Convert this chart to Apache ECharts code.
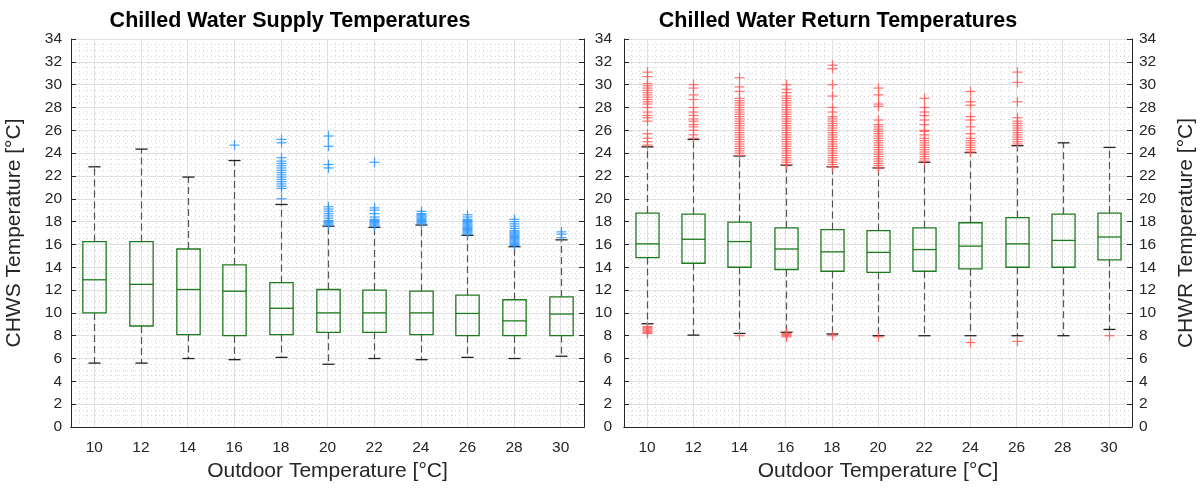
<!DOCTYPE html>
<html>
<head>
<meta charset="utf-8">
<script src="https://cdn.jsdelivr.net/npm/echarts@6/dist/echarts.min.js"></script>
<style>
html,body{margin:0;padding:0;background:#fff;}
#chart{width:1204px;height:493px;}
</style>
</head>
<body>
<div id="chart"></div>
<script>
// ---------- data ----------
const categories = ['10','12','14','16','18','20','22','24','26','28','30'];
const yTickMin = 0, yTickMax = 34, yTickStep = 2;

// CHWS (supply)
const chwsLow    = [5.6, 5.6, 6.0, 5.9, 6.1, 5.5, 6.0, 5.9, 6.1, 6.0, 6.2];
const chwsQ1     = [10.0, 8.85, 8.1, 8.0, 8.1, 8.3, 8.3, 8.1, 8.0, 8.0, 8.0];
const chwsMedian = [12.9, 12.5, 12.05, 11.9, 10.4, 10.0, 10.0, 10.0, 9.95, 9.3, 9.9];
const chwsQ3     = [16.25, 16.25, 15.6, 14.2, 12.65, 12.05, 12.0, 11.9, 11.55, 11.15, 11.4];
const chwsHigh   = [22.8, 24.35, 21.9, 23.35, 19.5, 17.6, 17.5, 17.7, 16.8, 15.8, 16.4];
const chwsOutliers = [
  [],
  [],
  [],
  [24.7],
  [20.0, 20.9, 21.1, 21.3, 21.5, 21.7, 21.9, 22.1, 22.3, 22.5, 22.7, 22.9, 23.1, 23.3, 23.6, 24.9, 25.2],
  [17.7, 17.8, 17.9, 18.0, 18.1, 18.3, 18.5, 18.7, 18.9, 19.1, 19.3, 22.7, 23.0, 24.6, 25.5],
  [17.6, 17.7, 17.8, 17.9, 18.0, 18.1, 18.2, 18.4, 18.7, 19.0, 19.2, 23.2],
  [17.8, 17.9, 18.0, 18.1, 18.2, 18.3, 18.4, 18.5, 18.6, 18.7, 18.9],
  [16.9, 17.0, 17.1, 17.2, 17.3, 17.4, 17.5, 17.6, 17.7, 17.8, 17.9, 18.0, 18.1, 18.2, 18.4, 18.6],
  [15.9, 16.0, 16.1, 16.2, 16.3, 16.4, 16.5, 16.6, 16.7, 16.8, 16.9, 17.0, 17.1, 17.2, 17.4, 17.6, 17.8, 18.0, 18.2],
  [16.6, 16.9, 17.1]
];

// CHWR (return)
const chwrLow    = [9.05, 8.05, 8.2, 8.3, 8.15, 8.0, 8.0, 8.0, 8.0, 8.0, 8.55];
const chwrQ1     = [14.85, 14.35, 14.0, 13.8, 13.65, 13.55, 13.65, 13.85, 14.0, 14.0, 14.65];
const chwrMedian = [16.05, 16.45, 16.25, 15.6, 15.35, 15.3, 15.55, 15.85, 16.05, 16.35, 16.65];
const chwrQ3     = [18.75, 18.65, 17.95, 17.45, 17.3, 17.2, 17.45, 17.9, 18.35, 18.65, 18.75];
const chwrHigh   = [24.55, 25.2, 23.75, 22.95, 22.8, 22.7, 23.2, 24.05, 24.65, 24.9, 24.5];
const chwrOutliers = [
  [8.2, 8.3, 8.4, 8.5, 8.6, 8.7, 8.8, 24.7, 25.0, 25.3, 25.7, 26.8, 27.1, 27.3, 27.6, 28.0, 28.3, 28.5, 28.7, 28.9, 29.1, 29.3, 29.5, 29.7, 29.9, 30.1, 30.7, 31.1],
  [25.3, 25.6, 26.0, 26.3, 26.5, 26.8, 27.0, 27.3, 27.6, 28.0, 28.7, 29.1, 29.7, 30.0],
  [8.0, 23.8, 24.0, 24.2, 24.4, 24.6, 24.8, 25.0, 25.2, 25.4, 25.6, 25.8, 26.0, 26.2, 26.4, 26.6, 26.8, 27.0, 27.2, 27.4, 27.6, 27.8, 28.0, 28.2, 28.4, 28.6, 28.8, 29.4, 29.8, 30.6],
  [7.9, 8.0, 8.1, 8.2, 23.0, 23.2, 23.4, 23.6, 23.8, 24.0, 24.2, 24.4, 24.6, 24.8, 25.0, 25.2, 25.4, 25.6, 25.8, 26.0, 26.2, 26.4, 26.6, 26.8, 27.0, 27.2, 27.4, 27.6, 27.8, 28.0, 28.2, 28.4, 28.6, 28.8, 29.0, 29.3, 29.6, 30.0],
  [8.0, 22.8, 23.0, 23.2, 23.4, 23.6, 23.8, 24.0, 24.2, 24.4, 24.6, 24.8, 25.0, 25.2, 25.4, 25.6, 25.8, 26.0, 26.2, 26.4, 26.6, 26.8, 27.0, 27.2, 27.6, 28.0, 29.0, 30.0, 31.4, 31.7],
  [7.9, 22.7, 22.9, 23.1, 23.3, 23.5, 23.7, 23.9, 24.1, 24.3, 24.5, 24.7, 24.9, 25.1, 25.3, 25.5, 25.7, 25.9, 26.1, 26.3, 26.5, 26.9, 28.1, 28.3, 29.1, 29.7],
  [23.3, 23.5, 23.7, 23.9, 24.1, 24.3, 24.5, 24.7, 24.9, 25.1, 25.3, 25.6, 25.9, 26.0, 26.5, 26.9, 27.3, 27.6, 28.0, 28.8],
  [7.4, 24.1, 24.3, 24.5, 24.7, 24.9, 25.1, 25.3, 25.7, 26.3, 26.9, 27.2, 28.2, 28.5, 29.4],
  [7.5, 24.8, 25.0, 25.2, 25.4, 25.6, 25.8, 26.0, 26.2, 26.4, 26.6, 26.8, 27.1, 28.5, 30.2, 31.1],
  [],
  [8.0]
];

const titles = ['Chilled Water Supply Temperatures', 'Chilled Water Return Temperatures'];
const xName = 'Outdoor Temperature [°C]';
const yNames = ['CHWS Temperature [°C]', 'CHWR Temperature [°C]'];

// ---------- styling ----------
const FONT = '"Liberation Sans", Arial, Helvetica, sans-serif';
const AXIS_COLOR = '#262626';
const BOX_COLOR = '#1f7a1f';
const WHISKER_COLOR = '#3a3a3a';
const CAP_COLOR = '#222';
const BLUE = 'rgba(51,153,255,0.9)';
const RED = 'rgba(255,90,90,0.85)';
const MAJOR_GRID = '#e1e1e1';
const MINOR_GRID = '#d6d6d6';

function boxData(lo, q1, med, q3, hi) {
  return categories.map((c, i) => [i, lo[i], q1[i], med[i], q3[i], hi[i]]);
}
function outlierData(list) {
  const out = [];
  list.forEach((vals, i) => vals.forEach(v => out.push([i, v])));
  return out;
}

function renderBox(params, api) {
  const i = api.value(0);
  const pLo = api.coord([i, api.value(1)]);
  const pQ1 = api.coord([i, api.value(2)]);
  const pMed = api.coord([i, api.value(3)]);
  const pQ3 = api.coord([i, api.value(4)]);
  const pHi = api.coord([i, api.value(5)]);
  const band = api.size([1, 0])[0];
  const bw = band * 0.5;
  const cw = band * 0.26;
  const x = Math.round(pMed[0]) + 0.5;
  const dash = {stroke: WHISKER_COLOR, lineWidth: 1.2, lineDash: [7, 4], opacity: 0.85};
  const cap = {stroke: CAP_COLOR, lineWidth: 1.3};
  const box = {stroke: BOX_COLOR, lineWidth: 1.3, fill: 'none'};
  return {
    type: 'group',
    children: [
      {type: 'line', shape: {x1: x, y1: pQ3[1], x2: x, y2: pHi[1]}, style: dash},
      {type: 'line', shape: {x1: x, y1: pQ1[1], x2: x, y2: pLo[1]}, style: dash},
      {type: 'line', shape: {x1: x - cw / 2, y1: pHi[1], x2: x + cw / 2, y2: pHi[1]}, style: cap},
      {type: 'line', shape: {x1: x - cw / 2, y1: pLo[1], x2: x + cw / 2, y2: pLo[1]}, style: cap},
      {type: 'rect', shape: {x: x - bw / 2, y: pQ3[1], width: bw, height: pQ1[1] - pQ3[1]}, style: box},
      {type: 'line', shape: {x1: x - bw / 2, y1: pMed[1], x2: x + bw / 2, y2: pMed[1]}, style: {stroke: BOX_COLOR, lineWidth: 1.3}}
    ]
  };
}
function plusRenderer(color) {
  return function (params, api) {
    const p = api.coord([api.value(0), api.value(1)]);
    const h = 5;
    const x = Math.round(p[0]) + 0.5;
    const st = {stroke: color, lineWidth: 1.2};
    return {
      type: 'group',
      children: [
        {type: 'line', shape: {x1: x - h, y1: p[1], x2: x + h, y2: p[1]}, style: st},
        {type: 'line', shape: {x1: x, y1: p[1] - h, x2: x, y2: p[1] + h}, style: st}
      ]
    };
  };
}

const labelStyle = {color: '#262626', fontSize: 15.5, fontFamily: FONT};
const nameStyle = {color: '#262626', fontSize: 21, fontFamily: FONT};

function catAxes(g) {
  return [
    {
      type: 'category', gridIndex: g, position: 'bottom', data: categories, boundaryGap: true,
      axisLine: {lineStyle: {color: AXIS_COLOR, width: 1}},
      axisTick: {inside: true, alignWithLabel: true, length: 5, lineStyle: {color: AXIS_COLOR}},
      axisLabel: Object.assign({margin: 13, interval: 0}, labelStyle),
      splitLine: {show: true, alignWithLabel: true, lineStyle: {color: MAJOR_GRID, width: 1}},
      name: xName, nameLocation: 'middle', nameGap: 32, nameTextStyle: nameStyle
    },
    {
      type: 'category', gridIndex: g, position: 'top', data: categories, boundaryGap: true,
      axisLine: {lineStyle: {color: AXIS_COLOR, width: 1}},
      axisTick: {inside: true, alignWithLabel: true, length: 5, lineStyle: {color: AXIS_COLOR}},
      axisLabel: {show: false}, splitLine: {show: false}
    },
    {
      type: 'value', gridIndex: g, position: 'bottom', min: 0, max: categories.length * 6, interval: 1,
      axisLine: {show: false}, axisTick: {show: false}, axisLabel: {show: false},
      splitLine: {show: true, lineStyle: {color: MINOR_GRID, width: 1, type: [1, 3]}}
    }
  ];
}
function valAxis(g, pos, showLabels, name, grid, margin) {
  const a = {
    type: 'value', gridIndex: g, position: pos, min: yTickMin, max: yTickMax, interval: yTickStep,
    axisLine: {show: true, onZero: false, lineStyle: {color: AXIS_COLOR, width: 1}},
    axisTick: {show: true, inside: true, length: 5, lineStyle: {color: AXIS_COLOR}},
    axisLabel: Object.assign({show: showLabels, margin: margin}, labelStyle),
    splitLine: {show: grid, lineStyle: {color: MAJOR_GRID, width: 1}},
    minorTick: {show: false, splitNumber: 4},
    minorSplitLine: {show: grid, lineStyle: {color: MINOR_GRID, width: 1, type: [1, 3]}}
  };
  if (name) {
    a.name = name; a.nameLocation = 'middle'; a.nameRotate = 90;
    a.nameGap = pos === 'left' ? 46 : 44;
    a.nameTextStyle = nameStyle;
  }
  return a;
}

const option = {
  animation: false,
  backgroundColor: '#ffffff',
  grid: [
    {left: 71, right: 620, top: 39, bottom: 66, containLabel: false},
    {left: 624, right: 72, top: 39, bottom: 66, containLabel: false}
  ],
  graphic: [
    {type: 'text', x: 290, y: 21, style: {text: titles[0], font: 'bold 21.5px ' + FONT, fill: '#000', textAlign: 'center', textVerticalAlign: 'middle'}},
    {type: 'text', x: 838, y: 21, style: {text: titles[1], font: 'bold 21.5px ' + FONT, fill: '#000', textAlign: 'center', textVerticalAlign: 'middle'}}
  ],
  xAxis: catAxes(0).concat(catAxes(1)),
  yAxis: [
    valAxis(0, 'left', true, yNames[0], true, 9),
    valAxis(0, 'right', false, null, false, 8),
    valAxis(1, 'left', true, null, true, 12),
    valAxis(1, 'right', true, yNames[1], false, 7)
  ],
  series: [
    {type: 'custom', xAxisIndex: 0, yAxisIndex: 0, renderItem: renderBox, encode: {x: 0, y: [1, 2, 3, 4, 5]},
     data: boxData(chwsLow, chwsQ1, chwsMedian, chwsQ3, chwsHigh), z: 3},
    {type: 'custom', xAxisIndex: 0, yAxisIndex: 0, renderItem: plusRenderer(BLUE), encode: {x: 0, y: 1},
     data: outlierData(chwsOutliers), z: 4},
    {type: 'custom', xAxisIndex: 3, yAxisIndex: 2, renderItem: renderBox, encode: {x: 0, y: [1, 2, 3, 4, 5]},
     data: boxData(chwrLow, chwrQ1, chwrMedian, chwrQ3, chwrHigh), z: 3},
    {type: 'custom', xAxisIndex: 3, yAxisIndex: 2, renderItem: plusRenderer(RED), encode: {x: 0, y: 1},
     data: outlierData(chwrOutliers), z: 4}
  ]
};

const chart = echarts.init(document.getElementById('chart'), null, {renderer: 'canvas'});
chart.setOption(option);
</script>
</body>
</html>
